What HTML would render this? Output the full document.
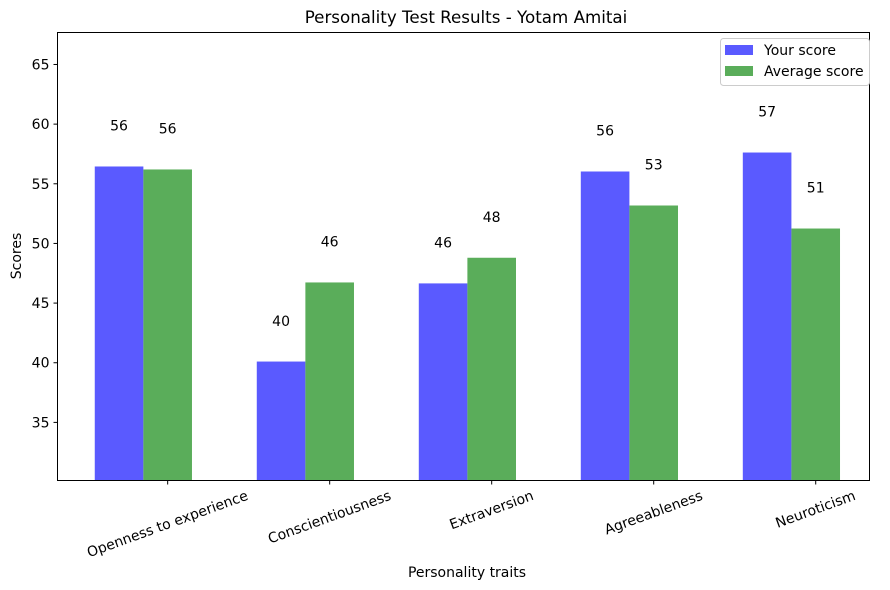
<!DOCTYPE html>
<html><head><meta charset="utf-8"><style>
html,body{margin:0;padding:0;background:#fff;}
svg{display:block;font-family:"DejaVu Sans","Liberation Sans",sans-serif;}
</style></head><body>
<svg id="chart" width="890" height="590" viewBox="0 0 890 590"></svg>
<script>
const categories = ["Openness to experience","Conscientiousness","Extraversion","Agreeableness","Neuroticism"];
const yourScores = [56.45, 40.1, 46.65, 56.03, 57.62];
const avgScores = [56.2, 46.73, 48.8, 53.18, 51.25];
const yTicks = [35,40,45,50,55,60,65];

const NS="http://www.w3.org/2000/svg";
const svg=document.getElementById('chart');
const L=57.5,R=869.5,T=32.5,B=480.5;
const yMin=30.13,yMax=67.68,xMin=-0.38,xMax=4.632;
const barW=0.3;
const FS=14;
function xs(v){return L+(v-xMin)/(xMax-xMin)*(R-L);}
function ys(v){return B-(v-yMin)/(yMax-yMin)*(B-T);}
function el(tag,attrs,parent){const e=document.createElementNS(NS,tag);for(const k in attrs)e.setAttribute(k,attrs[k]);(parent||svg).appendChild(e);return e;}

const title=el('text',{x:466,y:23,'text-anchor':'middle','font-size':16.7,fill:'#000'});
title.textContent="Personality Test Results - Yotam Amitai";



categories.forEach((c,i)=>{
  const b1=el('rect',{x:xs(i-barW/2),y:ys(yourScores[i]),width:xs(barW)-xs(0),height:B-ys(yourScores[i]),fill:'#5a5aff'});
  
  
  const b2=el('rect',{x:xs(i+barW/2),y:ys(avgScores[i]),width:xs(barW)-xs(0),height:B-ys(avgScores[i]),fill:'#5aad5a'});
  
  
  const t1=el('text',{x:xs(i),y:ys(yourScores[i]+3),'text-anchor':'middle','font-size':FS,fill:'#000'});
  t1.textContent=Math.floor(yourScores[i]);
  
  
  const t2=el('text',{x:xs(i+barW),y:ys(avgScores[i]+3),'text-anchor':'middle','font-size':FS,fill:'#000'});
  t2.textContent=Math.floor(avgScores[i]);
  
  
  const tx=xs(i+barW);
  el('line',{x1:tx,x2:tx,y1:B,y2:B+4,stroke:'#000','stroke-width':1});
  const lab=el('text',{'font-size':FS,fill:'#000','text-anchor':'middle','dominant-baseline':'central'});
  lab.textContent=c;
  
  
  const len=lab.getComputedTextLength();
  const s=Math.sin(20*Math.PI/180),co=Math.cos(20*Math.PI/180);
  const cy=488+(len*s+16*co)/2;
  lab.setAttribute('transform',`translate(${tx},${cy}) rotate(-20)`);
});

yTicks.forEach(v=>{
  const y=ys(v);
  el('line',{x1:L-4,x2:L,y1:y,y2:y,stroke:'#000','stroke-width':1});
  const t=el('text',{x:L-8,y:y+5,'text-anchor':'end','font-size':FS,fill:'#000'});
  t.textContent=v;
  
  
});

const frame=el('rect',{x:L,y:T,width:R-L,height:B-T,fill:'none',stroke:'#000','stroke-width':1});



const xt=el('text',{x:467,y:577,'text-anchor':'middle','font-size':FS,fill:'#000'});
xt.textContent="Personality traits";


const yt=el('text',{'text-anchor':'middle','font-size':FS,fill:'#000',transform:'translate(21,256) rotate(-90)'});
yt.textContent="Scores";



const lg=el('g',{});


el('rect',{x:720.5,y:38.5,width:149,height:47,rx:3,fill:'#fff',stroke:'#ccc','stroke-width':1},lg);
el('rect',{x:725,y:45,width:28,height:10,fill:'#5a5aff'},lg);
el('rect',{x:725,y:66,width:28,height:10,fill:'#5aad5a'},lg);
const l1=el('text',{x:764,y:55,'font-size':FS,fill:'#000'},lg);l1.textContent="Your score";


const l2=el('text',{x:764,y:76,'font-size':FS,fill:'#000'},lg);l2.textContent="Average score";


</script>
</body></html>
